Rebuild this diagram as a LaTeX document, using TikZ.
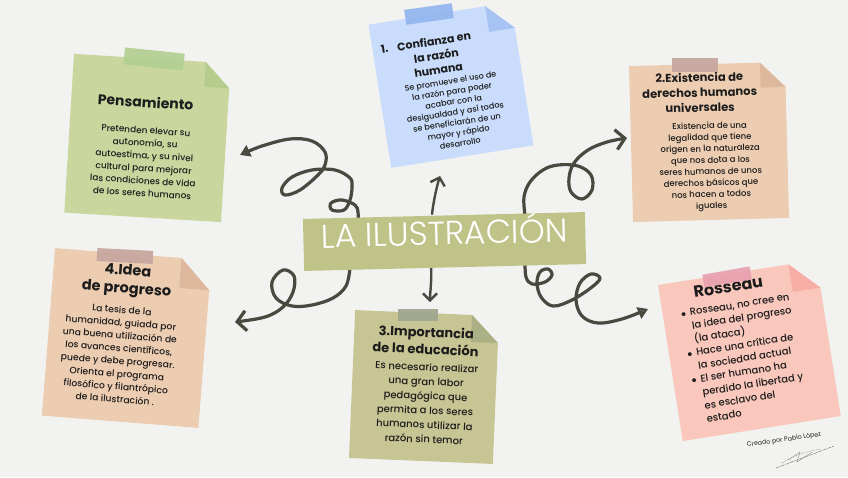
\documentclass[tikz,border=0pt]{standalone}
\usepackage{fontspec}
\setmainfont{Poppins}
\newfontfamily\hubfont{Poppins Light}
\newfontfamily\bodyfont{Poppins Medium}
\usetikzlibrary{arrows.meta}
\definecolor{bg}{HTML}{F2F2F0}
\definecolor{ink}{HTML}{1C1C1C}
\definecolor{ink2}{HTML}{4A493F}
\definecolor{gN}{HTML}{C9D69D}
\definecolor{gF}{HTML}{B6CB8C}
\definecolor{gT}{HTML}{B2CF92}
\definecolor{bN}{HTML}{C9DCFB}
\definecolor{bF}{HTML}{A6C3F4}
\definecolor{bT}{HTML}{92B5EF}
\definecolor{pN}{HTML}{EDCDB1}
\definecolor{pF}{HTML}{DDB89D}
\definecolor{pT}{HTML}{C6A59E}
\definecolor{oN}{HTML}{C7C594}
\definecolor{oF}{HTML}{ABB185}
\definecolor{oT}{HTML}{9EA68D}
\definecolor{rN}{HTML}{F9C7BC}
\definecolor{rF}{HTML}{F6AEA5}
\definecolor{rT}{HTML}{E8A0AF}
\definecolor{hubc}{HTML}{C0C388}
\newcommand\notepaper[5]{%
  \fill[#4] ({-#1/2},{-#2/2}) -- ({#1/2-#3},{-#2/2}) -- ({#1/2},{-#2/2+#3}) -- ({#1/2},{#2/2}) -- ({-#1/2},{#2/2}) -- cycle;
  \fill[#5] ({#1/2-#3},{-#2/2}) -- ({#1/2},{-#2/2+#3}) -- ({#1/2-#3},{-#2/2+#3}) -- cycle;}
\newcommand\tapestrip[6]{\begin{scope}[shift={(#1,#2)},rotate=#3]\fill[#6,fill opacity=0.92] ({-#4/2},{-#5/2}) rectangle ({#4/2},{#5/2});\end{scope}}
\tikzset{
  conn/.style={draw=ink2, line width=3.2pt, line cap=round, line join=round},
  thinconn/.style={draw=ink2, line width=2.4pt, line cap=round},
  ttl/.style 2 args={text=ink, align=center, inner sep=0pt, font=\bfseries\fontsize{#1}{#2}\selectfont},
  bdy/.style 2 args={text=ink, align=center, inner sep=0pt, font=\bodyfont\fontsize{#1}{#2}\selectfont},
}
\begin{document}
\begin{tikzpicture}[x=1pt,y=-1pt]
\useasboundingbox (0,0) rectangle (848,477);
\fill[bg] (0,0) rectangle (848,477);

% Note A: Pensamiento
\begin{scope}[shift={(147.5,138)},rotate=-3.5,transform shape]
  \notepaper{157}{159}{25}{gN}{gF}
  \node[ttl={14}{16}] (pensT) at (-4,-36) {Pensamiento};
  \node[bdy={8.9}{12.6}] (pensB) at (-2,24) {Pretenden elevar su\\autonomía, su\\autoestima, y su nivel\\cultural para mejorar\\las condiciones de vida\\de los seres humanos};
\end{scope}
\tapestrip{154}{59}{-6}{60}{17}{gT}

% Note B: Confianza
\begin{scope}[shift={(451,85)},rotate=9,transform shape]
  \notepaper{144}{145}{26}{bN}{bF}
  \node[ttl={11}{14.5}] (confN) at (-60,-46) {1.};
  \node[ttl={11}{14.5}] (confT) at (-10,-31.5) {Confianza en\\la razón\\humana};
  \node[bdy={8.1}{10.5}] (confB) at (0,27.5) {Se promueve el uso de\\la razón para poder\\acabar con la\\desigualdad y así todos\\se beneficiarán de un\\mayor y rápido\\desarrollo};
\end{scope}
\tapestrip{429}{14}{8}{48}{15}{bT}

% Note C: Existencia
\begin{scope}[shift={(709,142)},rotate=1.5,transform shape]
  \notepaper{156}{156}{25}{pN}{pF}
  \node[ttl={11.5}{15}] (dhT) at (-8,-50) {2.Existencia de\\derechos humanos\\universales};
  \node[bdy={8.5}{11.4}] (dhB) at (1,24.7) {Existencia de una\\legalidad que tiene\\origen en la naturaleza\\que nos dota a los\\seres humanos de unos\\derechos básicos que\\nos hacen a todos\\iguales};
\end{scope}
\tapestrip{695}{65}{0}{46}{14}{pT}

% Note D: Idea de progreso
\begin{scope}[shift={(126.7,338)},rotate=-4.5,transform shape]
  \notepaper{157}{168}{30}{pN}{pF}
  \node[ttl={14.5}{18}] (progT) at (-4,-57) {4.Idea\\de progreso};
  \node[bdy={9.2}{12.8}] (progB) at (-7,17) {La tesis de la\\humanidad, guiada por\\una buena utilización de\\los avances científicos,\\puede y debe progresar.\\Orienta el programa\\filosófico y filantrópico\\de la ilustración .};
\end{scope}
\tapestrip{125}{256}{-3}{56}{13}{pT}

% Note E: Importancia de la educacion
\begin{scope}[shift={(424,387)},rotate=-2.4,transform shape]
  \notepaper{144}{148}{27}{oN}{oF}
  \node[ttl={13}{17}] (eduT) at (0,-46.5) {3.Importancia\\de la educación};
  \node[bdy={10}{14.4}] (eduB) at (2,16) {Es necesario realizar\\una gran labor\\pedagógica que\\permita a los seres\\humanos utilizar la\\razón sin temor};
\end{scope}
\tapestrip{418}{315}{0}{40}{12}{oT}

% Note F: Rosseau
\begin{scope}[shift={(749.4,350.5)},rotate=9,transform shape]
  \notepaper{160}{158}{28}{rN}{rF}
  \node[ttl={16}{18}] (rosT) at (-11,-66) {Rosseau};
  \node[text=ink, align=left, inner sep=0pt, anchor=west, font=\bodyfont\fontsize{10}{13.5}\selectfont] (rosB) at (-62,7)
   {\makebox[9pt][l]{$\bullet$}Rosseau, no cree en\\\hspace*{9pt}la idea del progreso\\\hspace*{9pt}(la ataca)\\\makebox[9pt][l]{$\bullet$}Hace una crítica de\\\hspace*{9pt}la sociedad actual\\\makebox[9pt][l]{$\bullet$}El ser humano ha\\\hspace*{9pt}perdido la libertad y\\\hspace*{9pt}es esclavo del\\\hspace*{9pt}estado};
\end{scope}
\tapestrip{727}{277}{10}{48}{13}{rT}

% connectors
\coordinate (lt0) at (358,221);
\coordinate (lt1) at (240,155);
\draw[conn, -{Triangle[open,length=10pt,width=12pt]}] plot[smooth,tension=0.6] coordinates {(lt0) (358,212) (355,205) (342,200) (331,203) (332,210) (344,210) (350,200) (352,187) (350,178) (335,170) (312,170) (292,177) (282,188) (285,195) (300,190) (318,175) (325,165) (325,152) (312,141) (290,139) (262,146) (lt1)};

\coordinate (lb0) at (350,268);
\coordinate (lb1) at (235,322);
\draw[conn, -{Straight Barb[length=9pt,width=20pt]}] plot[smooth,tension=0.6] coordinates {(lb0) (346,286) (333,298) (312,305) (292,306) (276,298) (272,282) (283,270) (294,276) (293,292) (283,307) (265,317) (lb1)};

\coordinate (rt0) at (525,215);
\coordinate (rt1) at (627,138);
\draw[conn, -{Straight Barb[length=9pt,width=20pt]}] plot[smooth,tension=0.6] coordinates {(rt0) (524,197) (530,182) (543,170) (558,165) (578,166) (591,175) (592,190) (582,199) (571,192) (569,178) (574,163) (588,150) (607,142) (rt1)};

\coordinate (rb0) at (525,262);
\coordinate (rb1) at (648,309);
\draw[conn, -{Triangle[open,length=10pt,width=12pt]}] plot[smooth,tension=0.6] coordinates {(rb0) (526,277) (532,284) (545,282) (552,275) (548,269) (540,272) (537,283) (541,297) (553,306) (572,300) (592,287) (600,278) (591,274) (580,283) (576,300) (582,316) (598,323) (622,319) (rb1)};

\coordinate (up0) at (432,214);
\coordinate (up1) at (440,176);
\draw[thinconn, -{Straight Barb[length=7pt,width=15pt]}] (up0) .. controls (434,198) and (437,186) .. (up1);
\coordinate (dn0) at (431,266);
\coordinate (dn1) at (430,302);
\draw[thinconn, -{Straight Barb[length=7pt,width=14pt]}] (dn0) .. controls (432,280) and (430,292) .. (dn1);

% hub
\node[fill=hubc, rotate=1.4, minimum width=282pt, minimum height=52pt, inner sep=0pt, text=white, font=\hubfont\fontsize{33}{35}\selectfont, text height=0.7em, text depth=0pt] (hub) at (444.5,241.5) {LA ILUSTRACIÓN};

% credit
\node[text=ink, rotate=8, inner sep=0pt, font=\fontsize{6.3}{7}\selectfont] (credit) at (784,440) {Creado por Pablo López};
\draw[ink2!70, line width=0.5pt, dash pattern=on 4pt off 1pt] (776,468) -- (834,446);
\draw[ink2!60, line width=0.4pt, dash pattern=on 2pt off 1pt] (782,463) .. controls (795,455) and (805,452) .. (820,449);
\draw[ink2!60, line width=0.4pt] (788,460) -- (800,452) -- (797,462) -- (812,452);
\end{tikzpicture}
\end{document}
